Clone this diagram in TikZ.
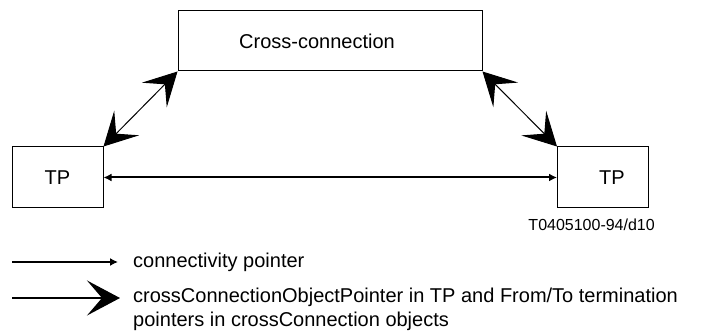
\documentclass[tikz,border=0pt]{standalone}
\usepackage{fontspec}
\setmainfont{Liberation Sans}
\usepackage{tikz}
\usetikzlibrary{arrows.meta}
\usetikzlibrary{positioning}
\tikzset{>={Latex[length=8pt,width=8pt]}}
\tikzset{ptr/.tip={Stealth[length=33pt,width=35pt,inset=15pt]}}
\tikzstyle{line} = [draw, 
line width=1.5pt]
\tikzstyle{objline} = [draw, 
line width=1pt, ptr-ptr]

\begin{document}
\begin{tikzpicture}[x=1pt, y=-1pt,
		every node/.style={font=\fontsize{20}{24}\selectfont},
		box/.style={draw, rectangle, line width=1pt,
			minimum width=91pt, minimum height=61pt, inner sep=0pt}]
		\useasboundingbox (0,0) rectangle (702,336);
		%% Objects
		\node [box, minimum width=304pt, minimum height=60pt] at (330,41) (cc) {Cross-connection\hspace*{26pt}};
		\node [box] at (57.5,177.5) (tpA) {TP};
		\node [box] at (603,177.5) (tpB) {\hspace*{18pt}TP};
		\node [anchor=east, inner sep=0pt, font=\fontsize{16}{19}\selectfont] at (655,225) (figid) {T0405100-94/d10};
		%% Pointers
		\path [objline] (cc.south west) to (tpA.north east);
		\path [objline] (cc.south east) to (tpB.north west);
		\path [line, line width=2pt, <->] (tpA) to (tpB);
		%% Key
		\coordinate (keyA) at (12,262);
		\coordinate (keyB) at (12,298);
		\node [anchor=west, inner sep=0pt] at (133,262) (keyAtext) {connectivity pointer};
		\node [anchor=north west, align=left, inner sep=0pt] at (133,288) (keyBtext) {crossConnectionObjectPointer in TP and From/To termination\\pointers in crossConnection objects};
		\path [line, ->, shorten >=15pt] (keyA) to (keyA -| keyAtext.west);
		\path [line, -ptr, shorten >=13pt] (keyB) to (keyB -| keyBtext.west);
	\end{tikzpicture}
\end{document}
